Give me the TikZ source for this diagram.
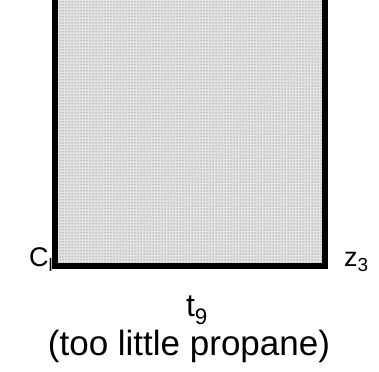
\documentclass[tikz,border=0pt]{standalone}
\usepackage{fontspec}
\setmainfont{Liberation Sans}
\usetikzlibrary{patterns}
\begin{document}
\begin{tikzpicture}[x=1pt,y=1pt,
  lbl/.style={inner sep=0pt, font=\fontsize{27}{30}\selectfont},
  mid/.style={inner sep=0pt, font=\fontsize{32}{36}\selectfont},
  big/.style={inner sep=0pt, font=\fontsize{35}{40}\selectfont}]
\useasboundingbox (0,0) rectangle (379,371);
\begin{scope}
\clip (0,0) rectangle (379,371);
\path[fill=gray!22] (55,105) rectangle (325,390);
\path[pattern=dots, pattern color=black!65] (55,105) rectangle (325,390);
\draw[line width=6pt] (55,390) -- (55,105) -- (325,105) -- (325,390);
\end{scope}
\node[lbl, anchor=base west] (cl) at (29,104) {C\textsubscript{\fontsize{18}{20}\selectfont l}};
\node[lbl, anchor=base west] (z3) at (344,104) {z\textsubscript{3}};
\node[mid, anchor=base] (t9) at (197,54) {t\textsubscript{9}};
\node[big, anchor=base] (cap) at (189,16) {(too little propane)};
\end{tikzpicture}
\end{document}
